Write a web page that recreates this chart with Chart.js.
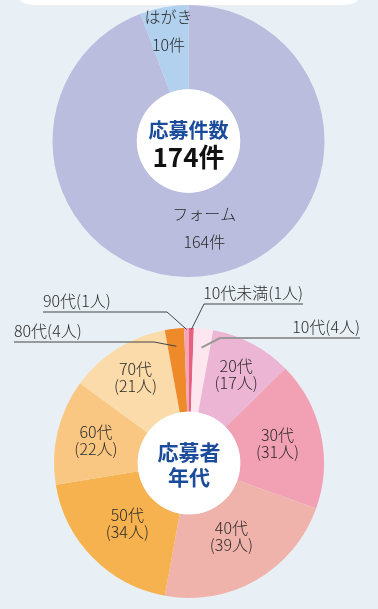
<!DOCTYPE html>
<html lang="ja">
<head>
<meta charset="utf-8">
<script src="https://cdn.jsdelivr.net/npm/chart.js@4/dist/chart.umd.min.js"></script>
<style>
  html, body { margin: 0; padding: 0; }
  body { width: 378px; height: 609px; background: #e9f0f5; position: relative; overflow: hidden; }
  #topShape { position: absolute; left: 20px; top: -30px; width: 338px; height: 35px; background: #fff;
    border-bottom-left-radius: 16px 6px; border-bottom-right-radius: 16px 6px; }
  canvas { position: absolute; left: 0; top: 0; }
</style>
</head>
<body>
<div id="topShape"></div>
<canvas id="entryChart" width="378" height="609"></canvas>
<canvas id="ageChart" width="378" height="609"></canvas>
<script>
// 応募件数
const entryLabels = ['フォーム', 'はがき'];
const entryValues = [164, 10];
const entryColors = ['#bbbddf', '#b1d1ee'];

// 応募者年代
const ageLabels = ['10代未満', '10代', '20代', '30代', '40代', '50代', '60代', '70代', '80代', '90代'];
const ageValues = [1, 4, 17, 31, 39, 34, 22, 21, 4, 1];
const ageColors = ['#e8607f', '#fde6ed', '#ecb5d3', '#f2a0b4', '#f0b3ab', '#f6b24e', '#f9c781', '#fbdba9', '#ef8a2a', '#f4a5ba'];

const FONT = '"Noto Sans CJK JP", "Noto Sans", sans-serif';

// white hole, center title, slice labels, callouts
const doughnutText = {
  id: 'doughnutText',
  afterDatasetsDraw(chart, args, opts) {
    const ctx = chart.ctx;
    const arcs = chart.getDatasetMeta(0).data;
    const cx = arcs[0].x, cy = arcs[0].y;
    const outer = arcs[0].outerRadius, inner = arcs[0].innerRadius;
    ctx.save();
    ctx.fillStyle = '#fff';
    ctx.beginPath();
    ctx.arc(cx, cy, inner, 0, Math.PI * 2);
    ctx.fill();

    ctx.textAlign = 'center';
    ctx.textBaseline = 'middle';
    opts.center.forEach(c => {
      ctx.font = 'bold ' + c.size + 'px ' + FONT;
      ctx.fillStyle = c.color;
      ctx.fillText(c.text, cx, cy + c.dy);
    });

    ctx.font = '300 ' + opts.fontSize + 'px ' + FONT;
    ctx.fillStyle = '#2a2a2a';
    (opts.inside || []).forEach(l => {
      const a = arcs[l.index];
      const mid = (a.startAngle + a.endAngle) / 2;
      const r = inner + (outer - inner) * l.r;
      const x = cx + Math.cos(mid) * r, y = cy + Math.sin(mid) * r;
      ctx.fillText(l.lines[0], x, y - l.gap / 2);
      ctx.fillText(l.lines[1], x, y + l.gap / 2);
    });

    (opts.callouts || []).forEach(c => {
      const a = arcs[c.index];
      const mid = (a.startAngle + a.endAngle) / 2;
      const r = outer * c.r;
      const ax = cx + Math.cos(mid) * r, ay = cy + Math.sin(mid) * r;
      ctx.strokeStyle = c.color;
      ctx.lineWidth = c.width;
      ctx.beginPath();
      ctx.moveTo(ax, ay);
      ctx.lineTo(c.elbowX, c.elbowY);
      ctx.lineTo(c.endX, c.elbowY);
      ctx.stroke();
      ctx.fillStyle = '#2a2a2a';
      ctx.textAlign = c.endX < c.elbowX ? 'left' : 'right';
      ctx.fillText(c.text, c.endX, c.elbowY - 11);
    });
    ctx.restore();
  }
};

new Chart(document.getElementById('entryChart'), {
  type: 'doughnut',
  data: {
    labels: entryLabels,
    datasets: [{ data: entryValues, backgroundColor: entryColors, borderWidth: 0 }]
  },
  options: {
    responsive: false,
    animation: false,
    cutout: '38%',
    layout: { padding: { top: 5, bottom: 332, left: 52, right: 53 } },
    plugins: {
      legend: { display: false },
      tooltip: { enabled: false },
      doughnutText: {
        fontSize: 16,
        center: [
          { text: '応募件数', size: 20, color: '#1b4b9b', dy: -11 },
          { text: entryValues.reduce((s, v) => s + v, 0) + '件', size: 26, color: '#111', dy: 16 }
        ],
        inside: [
          { index: 0, r: 0.43, gap: 28, lines: [entryLabels[0], entryValues[0] + '件'] },
          { index: 1, r: 0.71, gap: 28, lines: [entryLabels[1], entryValues[1] + '件'] }
        ]
      }
    }
  },
  plugins: [doughnutText]
});

const ageInside = [2, 3, 4, 5, 6, 7].map(i => ({
  index: i, r: [0, 0, 0.59, 0.47, 0.4, 0.42, 0.53, 0.59][i], gap: 17,
  lines: [ageLabels[i], '(' + ageValues[i] + '人)']
}));

new Chart(document.getElementById('ageChart'), {
  type: 'doughnut',
  data: {
    labels: ageLabels,
    datasets: [{ data: ageValues, backgroundColor: ageColors, borderWidth: 0 }]
  },
  options: {
    responsive: false,
    animation: false,
    cutout: '38%',
    layout: { padding: { top: 328, bottom: 11, left: 53, right: 53 } },
    plugins: {
      legend: { display: false },
      tooltip: { enabled: false },
      doughnutText: {
        fontSize: 16,
        center: [
          { text: '応募者', size: 21, color: '#1b4b9b', dy: -11 },
          { text: '年代', size: 21, color: '#1b4b9b', dy: 14 }
        ],
        inside: ageInside,
        callouts: [
          { index: 0, r: 0.99, elbowX: 204, elbowY: 304, endX: 303, color: '#444', width: 1, text: ageLabels[0] + '(' + ageValues[0] + '人)' },
          { index: 1, r: 0.86, elbowX: 220, elbowY: 338, endX: 360, color: '#999', width: 2, text: ageLabels[1] + '(' + ageValues[1] + '人)' },
          { index: 9, r: 0.99, elbowX: 167, elbowY: 312, endX: 43, color: '#444', width: 1, text: ageLabels[9] + '(' + ageValues[9] + '人)' },
          { index: 8, r: 0.87, elbowX: 154, elbowY: 342, endX: 14, color: '#444', width: 1, text: ageLabels[8] + '(' + ageValues[8] + '人)' }
        ]
      }
    }
  },
  plugins: [doughnutText]
});
</script>
</body>
</html>
